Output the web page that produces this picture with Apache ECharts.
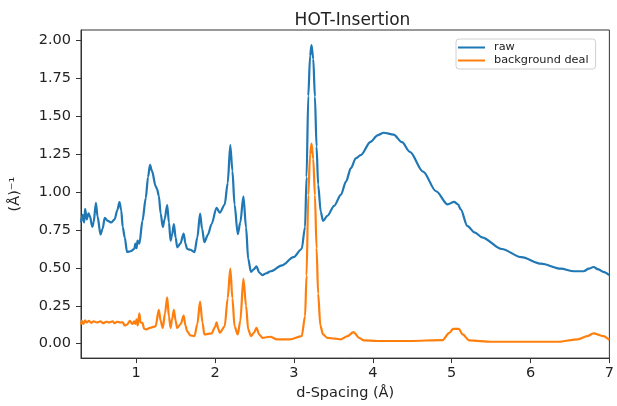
<!DOCTYPE html>
<html>
<head>
<meta charset="utf-8">
<script src="https://cdn.jsdelivr.net/npm/echarts/dist/echarts.min.js"></script>
<style>
html,body{margin:0;padding:0;background:#fff;}
#chart{width:617px;height:406px;}
</style>
</head>
<body>
<div id="chart"></div>
<script>
const titleText = "HOT-Insertion";
const xName = "d-Spacing (Å)";
const yName = "(Å)⁻¹";
const seriesNames = ["raw", "background deal"];
const xTicks = [1, 2, 3, 4, 5, 6, 7];
const yTicks = [0, 0.25, 0.5, 0.75, 1.0, 1.25, 1.5, 1.75, 2.0];

const rawD = [0.300,0.320,0.340,0.352,0.373,0.395,0.414,0.443,0.460,0.489,0.510,0.547,0.575,0.601,0.640,0.685,0.726,0.760,0.788,0.810,0.829,0.855,0.884,0.930,0.975,0.990,1.005,1.016,1.040,1.079,1.121,1.150,1.175,1.200,1.246,1.265,1.287,1.310,1.337,1.360,1.393,1.415,1.436,1.455,1.478,1.500,1.520,1.560,1.602,1.625,1.645,1.686,1.739,1.775,1.810,1.835,1.864,1.910,1.956,2.019,2.060,2.122,2.160,2.193,2.220,2.247,2.288,2.320,2.359,2.393,2.420,2.455,2.490,2.525,2.560,2.600,2.650,2.704,2.849,2.995,3.098,3.141,3.160,3.182,3.205,3.223,3.245,3.266,3.287,3.307,3.340,3.369,3.423,3.510,3.597,3.660,3.722,3.784,3.847,3.971,4.060,4.138,4.263,4.370,4.470,4.637,4.803,4.949,5.031,5.080,5.115,5.198,5.290,5.385,5.635,5.884,6.133,6.383,6.549,6.673,6.740,6.798,6.860,6.923,7.000];
const rawI = [0.80,0.85,0.80,0.89,0.82,0.86,0.84,0.77,0.80,0.93,0.84,0.72,0.76,0.83,0.81,0.80,0.82,0.88,0.935,0.88,0.77,0.70,0.605,0.61,0.625,0.66,0.63,0.68,0.66,0.81,0.96,1.10,1.18,1.14,1.04,1.02,0.975,0.86,0.77,0.82,0.915,0.80,0.68,0.72,0.79,0.70,0.636,0.66,0.727,0.66,0.625,0.62,0.604,0.70,0.858,0.76,0.67,0.72,0.79,0.897,0.865,0.918,1.06,1.31,1.14,0.918,0.723,0.80,0.973,0.767,0.56,0.474,0.49,0.51,0.47,0.452,0.465,0.478,0.517,0.571,0.625,0.77,1.10,1.635,1.90,1.97,1.88,1.63,1.30,1.05,0.87,0.81,0.843,0.91,0.984,1.07,1.158,1.223,1.244,1.332,1.375,1.392,1.38,1.33,1.266,1.136,1.006,0.919,0.936,0.92,0.886,0.778,0.735,0.702,0.625,0.571,0.528,0.495,0.478,0.478,0.495,0.506,0.49,0.474,0.452];

const bgD = [0.300,0.310,0.330,0.352,0.373,0.400,0.430,0.460,0.500,0.547,0.580,0.620,0.660,0.700,0.726,0.760,0.800,0.829,0.855,0.884,0.920,0.950,0.975,0.990,1.005,1.020,1.040,1.055,1.079,1.100,1.121,1.175,1.246,1.287,1.310,1.337,1.365,1.393,1.415,1.436,1.455,1.478,1.500,1.520,1.565,1.602,1.625,1.645,1.686,1.739,1.775,1.810,1.840,1.864,1.956,2.000,2.019,2.040,2.060,2.122,2.160,2.193,2.220,2.247,2.288,2.320,2.359,2.393,2.420,2.455,2.490,2.525,2.560,2.600,2.700,2.780,2.950,3.098,3.141,3.160,3.182,3.205,3.223,3.245,3.266,3.287,3.307,3.335,3.369,3.423,3.520,3.597,3.680,3.755,3.826,3.888,4.050,4.470,4.886,4.970,5.020,5.090,5.140,5.222,5.513,5.930,6.350,6.600,6.720,6.798,6.923,7.000];
const bgI = [0.126,0.15,0.13,0.154,0.14,0.15,0.138,0.148,0.14,0.148,0.135,0.145,0.14,0.148,0.135,0.145,0.14,0.141,0.12,0.126,0.15,0.13,0.148,0.13,0.16,0.12,0.20,0.14,0.137,0.10,0.094,0.104,0.115,0.224,0.15,0.104,0.20,0.306,0.18,0.104,0.16,0.224,0.15,0.104,0.13,0.185,0.12,0.083,0.055,0.05,0.13,0.278,0.14,0.061,0.068,0.11,0.141,0.10,0.072,0.115,0.30,0.495,0.30,0.115,0.061,0.15,0.43,0.25,0.094,0.05,0.07,0.104,0.06,0.039,0.046,0.029,0.029,0.05,0.18,0.45,0.98,1.25,1.32,1.22,0.98,0.63,0.33,0.12,0.061,0.039,0.033,0.029,0.05,0.076,0.039,0.022,0.018,0.018,0.024,0.072,0.098,0.098,0.061,0.022,0.013,0.013,0.013,0.029,0.05,0.068,0.05,0.024];

const rawData = rawD.map((d, i) => [d, rawI[i]]);
const bgData = bgD.map((d, i) => [d, bgI[i]]);

const FONT = 'DejaVu Sans';
const chart = echarts.init(document.getElementById('chart'), null, {renderer: 'canvas'});
chart.setOption({
  animation: false,
  backgroundColor: '#fff',
  title: {
    text: titleText,
    left: 347.5, top: 7, textAlign: 'center',
    textStyle: {fontFamily: FONT, fontSize: 17, fontWeight: 'normal', color: '#222'}
  },
  legend: {
    orient: 'vertical',
    left: 456, top: 39,
    padding: [3, 7, 3, 2],
    itemGap: 2,
    itemWidth: 27, itemHeight: 2,
    icon: 'rect',
    backgroundColor: '#fff',
    borderColor: '#d0d0d0', borderWidth: 1, borderRadius: 3,
    textStyle: {fontFamily: FONT, fontSize: 11.3, color: '#222', padding: [0, 0, 0, 4]},
    data: seriesNames
  },
  grid: {
    left: 79, right: 1, top: 30, bottom: 44,
    show: true, borderColor: '#333', borderWidth: 1, backgroundColor: 'transparent'
  },
  xAxis: {
    type: 'value', min: 0.3, max: 7.0,
    name: xName, nameLocation: 'middle', nameGap: 27,
    nameTextStyle: {fontFamily: FONT, fontSize: 14.5, color: '#222'},
    axisLine: {show: true, onZero: false, lineStyle: {color: '#333', width: 1}},
    axisTick: {show: true, inside: false, length: 5, customValues: xTicks, lineStyle: {color: '#333'}},
    axisLabel: {fontFamily: FONT, fontSize: 14.5, color: '#222', margin: 8, customValues: xTicks},
    splitLine: {show: false}
  },
  yAxis: {
    type: 'value', min: -0.095, max: 2.07,
    name: yName, nameLocation: 'middle', nameGap: 58,
    nameTextStyle: {fontFamily: FONT, fontSize: 14.5, color: '#222'},
    axisLine: {show: true, onZero: false, lineStyle: {color: '#333', width: 1}},
    axisTick: {show: true, inside: false, length: 5, customValues: yTicks, lineStyle: {color: '#333'}},
    axisLabel: {fontFamily: FONT, fontSize: 14.5, color: '#222', margin: 10, customValues: yTicks,
      formatter: v => v.toFixed(2)},
    splitLine: {show: false}
  },
  series: [
    {name: seriesNames[0], type: 'line', data: rawData, showSymbol: false, smooth: 0.3, smoothMonotone: 'x',
      lineStyle: {color: '#1f77b4', width: 2.2}, itemStyle: {color: '#1f77b4'}},
    {name: seriesNames[1], type: 'line', data: bgData, showSymbol: false, smooth: 0.3, smoothMonotone: 'x',
      lineStyle: {color: '#ff7f0e', width: 2.2}, itemStyle: {color: '#ff7f0e'}}
  ]
});
</script>
</body>
</html>
